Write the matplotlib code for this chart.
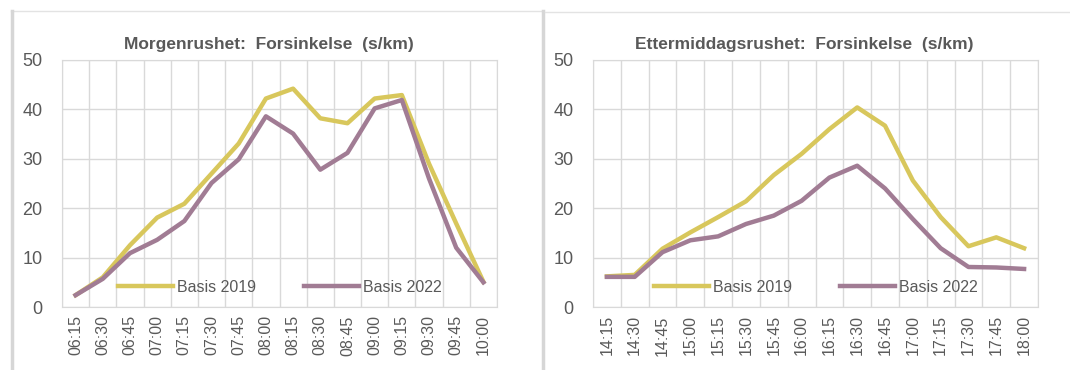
import matplotlib.pyplot as plt
import numpy as np
from matplotlib.lines import Line2D

plt.rcParams['font.family'] = ['Liberation Sans', 'DejaVu Sans']

# morning rush
tider_morgen = ["06:15", "06:30", "06:45", "07:00", "07:15", "07:30", "07:45", "08:00",
                "08:15", "08:30", "08:45", "09:00", "09:15", "09:30", "09:45", "10:00"]
morgen_2019 = [2.4, 6.0, 12.5, 18.1, 20.9, 27.0, 33.1, 42.2, 44.2, 38.2, 37.2, 42.2, 42.9, 29.0, 16.9, 5.1]
morgen_2022 = [2.4, 5.7, 10.9, 13.6, 17.4, 25.1, 29.9, 38.6, 35.1, 27.8, 31.2, 40.2, 41.9, 26.0, 12.0, 5.0]

# afternoon rush
tider_etter = ["14:15", "14:30", "14:45", "15:00", "15:15", "15:30", "15:45", "16:00",
               "16:15", "16:30", "16:45", "17:00", "17:15", "17:30", "17:45", "18:00"]
etter_2019 = [6.2, 6.5, 11.8, 15.1, 18.2, 21.4, 26.7, 31.0, 36.0, 40.4, 36.7, 25.6, 18.2, 12.3, 14.1, 11.9]
etter_2022 = [6.1, 6.1, 11.1, 13.5, 14.3, 16.8, 18.5, 21.5, 26.2, 28.6, 24.0, 17.8, 11.9, 8.1, 8.0, 7.7]

gul = "#d8c75c"
lilla = "#a17c94"
tekst = "#595959"
grid = "#d9d9d9"

fig = plt.figure(figsize=(10.7, 3.7), dpi=100)

# panel borders
fig.add_artist(Line2D([11/1070, 541/1070], [1-11/370, 1-11/370], color="#e3e3e3", lw=1))
fig.add_artist(Line2D([12/1070, 12/1070], [0, 1-11/370], color="#d6d6d6", lw=2.5))
fig.add_artist(Line2D([542.5/1070, 542.5/1070], [0, 1-11/370], color="#d6d6d6", lw=2.5))
fig.add_artist(Line2D([545/1070, 1], [1-12/370, 1-12/370], color="#e3e3e3", lw=1))

def tegn(ax, tider, v2019, v2022, tittel):
    x = np.arange(len(tider))
    ax.plot(x, v2019, color=gul, lw=3.2, solid_joinstyle="round", label="Basis 2019", zorder=3)
    ax.plot(x, v2022, color=lilla, lw=3.2, solid_joinstyle="round", label="Basis 2022", zorder=4)
    ax.set_xlim(-0.5, len(tider) - 0.5)
    ax.set_ylim(0, 50)
    ax.set_yticks(range(0, 51, 10))
    ax.set_xticks(x)
    ax.set_xticklabels(tider, rotation=90)
    ax.set_xticks(np.arange(-0.5, len(tider), 1), minor=True)
    ax.grid(True, which="minor", axis="x", color=grid, lw=1)
    ax.grid(True, which="major", axis="y", color=grid, lw=1)
    ax.tick_params(which="both", length=0)
    ax.tick_params(axis="y", labelsize=13, labelcolor=tekst, pad=14)
    ax.tick_params(axis="x", labelsize=11.5, labelcolor=tekst, pad=6)
    for s in ax.spines.values():
        s.set_color(grid)
    ax.set_axisbelow(True)
    ax.set_title(tittel, fontsize=12.5, fontweight="bold", color=tekst, pad=8, x=0.475)
    ax.legend(loc="center", bbox_to_anchor=(0.5, 0.08), ncol=2, frameon=False,
              fontsize=11.5, labelcolor=tekst, handlelength=3.5, handletextpad=0.2,
              columnspacing=3.0)

ax1 = fig.add_axes([62/1070, 1-307/370, 435/1070, 247/370])
tegn(ax1, tider_morgen, morgen_2019, morgen_2022, "Morgenrushet:  Forsinkelse  (s/km)")

ax2 = fig.add_axes([593/1070, 1-307/370, 445/1070, 247/370])
tegn(ax2, tider_etter, etter_2019, etter_2022, "Ettermiddagsrushet:  Forsinkelse  (s/km)")

fig.savefig("out.png", dpi=100)
